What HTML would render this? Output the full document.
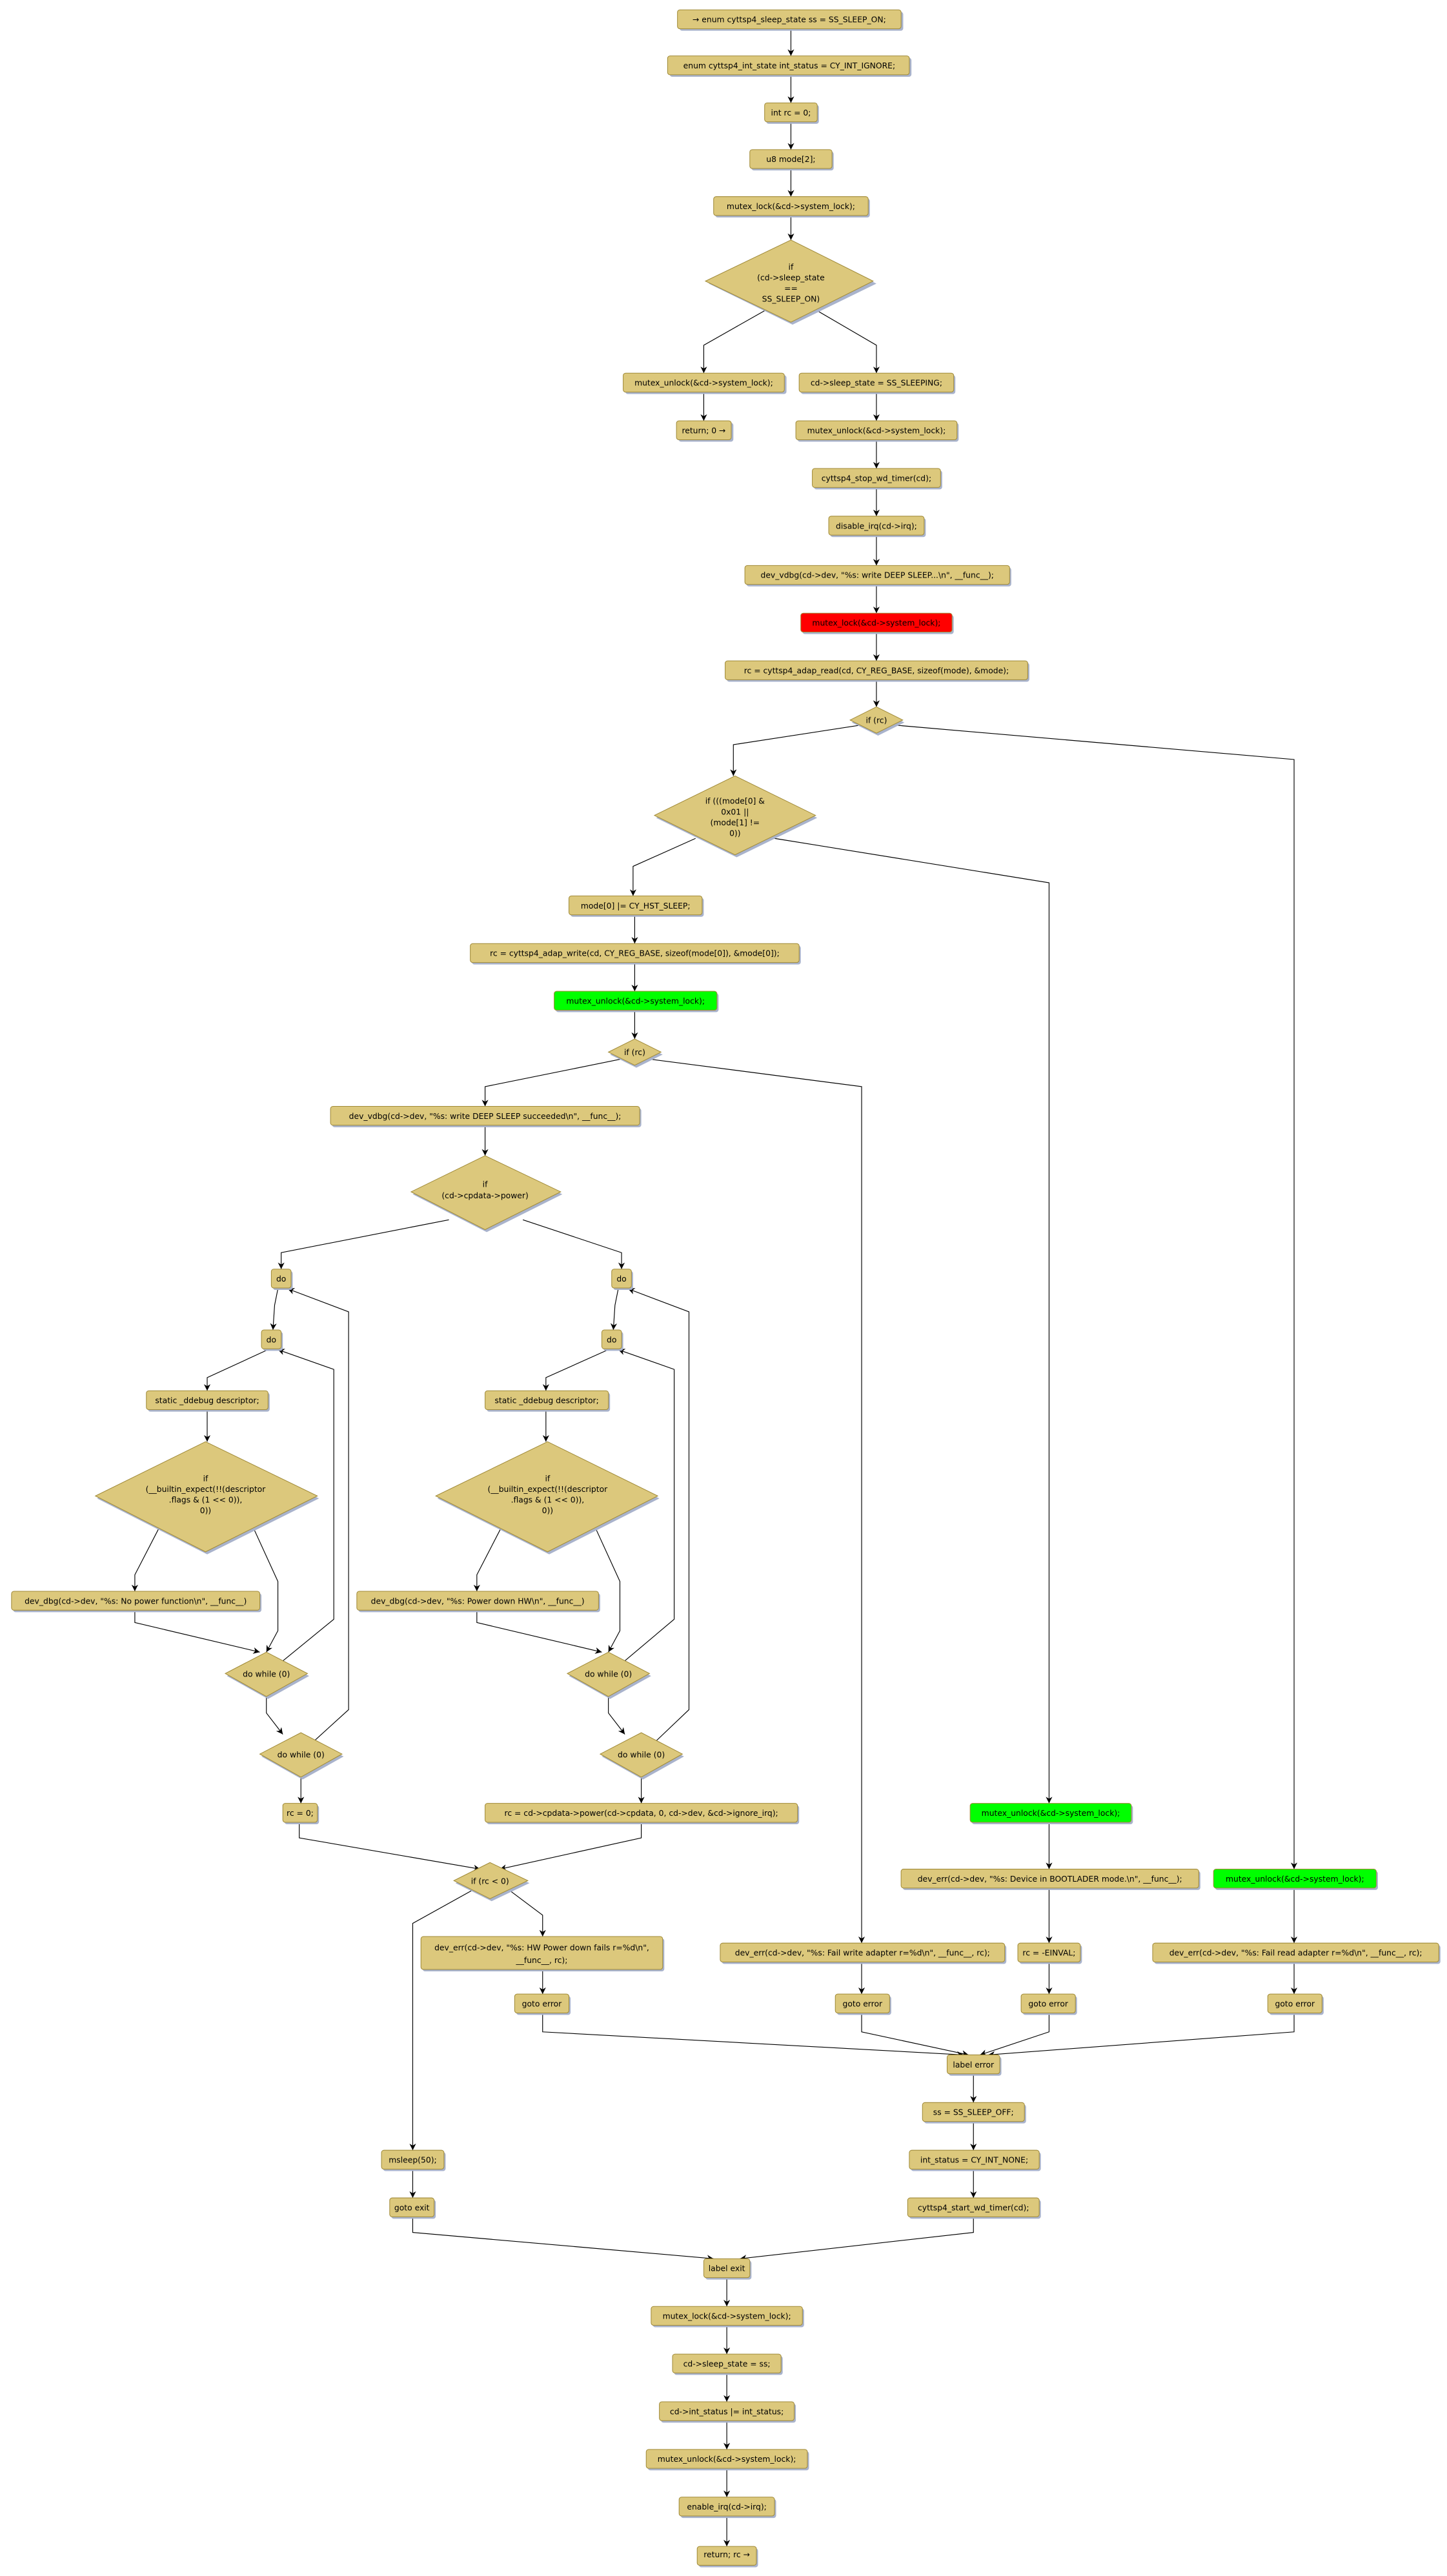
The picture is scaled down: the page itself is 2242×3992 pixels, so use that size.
<!DOCTYPE html>
<html><head><meta charset="utf-8"><style>
html,body{margin:0;padding:0;background:#fff;}
svg{display:block;}
text{font-family:"DejaVu Sans","Liberation Sans",sans-serif;font-size:4.85px;fill:#000;text-anchor:middle;}
.b{fill:#dcc87c;stroke:#a08a38;stroke-width:0.4;}
.s{fill:#a9b3cc;}
.l{fill:none;stroke:#000;stroke-width:0.45;}
</style></head><body>
<svg width="2242" height="3992" viewBox="0 0 880 1567" preserveAspectRatio="none" xmlns="http://www.w3.org/2000/svg">
<defs>
<marker id="a" viewBox="0 0 10 10" refX="10" refY="5" markerWidth="4" markerHeight="4" markerUnits="userSpaceOnUse" orient="auto">
<path d="M0,0 L10,5 L0,10 L3,5 z" fill="#000"/>
</marker>
</defs>

<g class="l" marker-end="url(#a)">
<polyline points="481,17.5 481,34"/>
<polyline points="481,45.5 481,62.6"/>
<polyline points="481,74 481,91"/>
<polyline points="481,103 481,119.6"/>
<polyline points="481,131 481,146"/>
<polyline points="465,189 428,210 428,227"/>
<polyline points="497,189 533,210 533,227"/>
<polyline points="428,239 428,256"/>
<polyline points="533,239 533,256"/>
<polyline points="533,268 533,285"/>
<polyline points="533,297 533,314"/>
<polyline points="533,326 533,344"/>
<polyline points="533,356 533,373"/>
<polyline points="533,385 533,402"/>
<polyline points="533,414 533,430"/>
<polyline points="524,441 446,453 446,472"/>
<polyline points="543,441 787,462 787,1137"/>
<polyline points="423,510 385,527 385,545"/>
<polyline points="471,510 638,537 638,1097"/>
<polyline points="386,557 386,574"/>
<polyline points="386,586 386,603"/>
<polyline points="386,615 386,632"/>
<polyline points="379,644 295,661 295,673"/>
<polyline points="393,644 524,661 524,1182"/>
<polyline points="295,685 295,703"/>
<polyline points="273,742 171,762 171,772"/>
<polyline points="318,742 378,762 378,772"/>
<polyline points="169,784 167,794 166,809"/>
<polyline points="163,821 126,838 126,846"/>
<polyline points="126,858 126,877"/>
<polyline points="98,927 82,958 82,968"/>
<polyline points="153,927 169,962 169,992 162,1005"/>
<polyline points="82,980 82,987 158,1005"/>
<polyline points="162,1032 162,1042 172,1055"/>
<polyline points="170,1012 203,985 203,833 169,821"/>
<polyline points="190,1060 212,1040 212,798 175,784"/>
<polyline points="183,1081 183,1097"/>
<polyline points="376,784 374,794 373,809"/>
<polyline points="370,821 332,838 332,846"/>
<polyline points="332,858 332,877"/>
<polyline points="306,927 290,958 290,968"/>
<polyline points="361,927 377,962 377,992 370,1005"/>
<polyline points="290,980 290,987 366,1005"/>
<polyline points="370,1032 370,1042 380,1055"/>
<polyline points="378,1012 410,985 410,833 376,821"/>
<polyline points="398,1060 419,1040 419,798 382,784"/>
<polyline points="390,1081 390,1097"/>
<polyline points="182,1109 182,1118 292,1137"/>
<polyline points="390,1109 390,1118 304,1137"/>
<polyline points="287,1150 251,1170 251,1308"/>
<polyline points="310,1150 330,1165 330,1178"/>
<polyline points="330,1198 330,1213"/>
<polyline points="251,1320 251,1337"/>
<polyline points="524,1194 524,1213"/>
<polyline points="638,1109 638,1137"/>
<polyline points="638,1149 638,1182"/>
<polyline points="638,1194 638,1213"/>
<polyline points="787,1149 787,1182"/>
<polyline points="787,1194 787,1213"/>
<polyline points="330,1225 330,1236 586,1250"/>
<polyline points="524,1225 524,1236 589,1250"/>
<polyline points="638,1225 638,1236 596,1250"/>
<polyline points="787,1225 787,1236 601,1250"/>
<polyline points="592,1262 592,1279"/>
<polyline points="592,1291 592,1308"/>
<polyline points="592,1320 592,1337"/>
<polyline points="592,1349 592,1358 450,1374"/>
<polyline points="251,1349 251,1358 434,1374"/>
<polyline points="442,1386 442,1403"/>
<polyline points="442,1415 442,1432"/>
<polyline points="442,1444 442,1461"/>
<polyline points="442,1473 442,1490"/>
<polyline points="442,1502 442,1519"/>
<polyline points="442,1531 442,1549"/>
</g>

<g>
<rect class="s" x="413.3" y="7.2" width="136" height="11.5" rx="1.5"/><rect class="b" x="412" y="6" width="136" height="11.5" rx="1.5"/><text x="480" y="13.6">→ enum cyttsp4_sleep_state ss = SS_SLEEP_ON;</text>
<rect class="s" x="407.3" y="35.2" width="147" height="11.5" rx="1.5"/><rect class="b" x="406" y="34" width="147" height="11.5" rx="1.5"/><text x="480" y="41.6">enum cyttsp4_int_state int_status = CY_INT_IGNORE;</text>
<rect class="s" x="466" y="63.8" width="32" height="11.5" rx="1.5"/><rect class="b" x="465" y="62.6" width="32" height="11.5" rx="1.5"/><text x="481" y="70.2">int rc = 0;</text>
<rect class="s" x="457" y="92.2" width="50" height="11.5" rx="1.5"/><rect class="b" x="456" y="91" width="50" height="11.5" rx="1.5"/><text x="481" y="98.6">u8 mode[2];</text>
<rect class="s" x="435" y="120.8" width="94" height="11.5" rx="1.5"/><rect class="b" x="434" y="119.6" width="94" height="11.5" rx="1.5"/><text x="481" y="127.2">mutex_lock(&amp;cd-&gt;system_lock);</text>
<polygon class="s" points="482,147.5 533,172.5 482,197.5 431,172.5"/><polygon class="b" points="481,146 531,171 481,196 429,171"/>
<text x="481" y="164">if</text><text x="481" y="170.5">(cd-&gt;sleep_state</text><text x="481" y="177">==</text><text x="481" y="183.5">SS_SLEEP_ON)</text>

<rect class="s" x="380.3" y="228.2" width="98" height="11.5" rx="1.5"/><rect class="b" x="379" y="227" width="98" height="11.5" rx="1.5"/><text x="428" y="234.6">mutex_unlock(&amp;cd-&gt;system_lock);</text>
<rect class="s" x="412.7" y="257.2" width="33.3" height="11.5" rx="1.5"/><rect class="b" x="411.4" y="256" width="33.3" height="11.5" rx="1.5"/><text x="428" y="263.6">return; 0 →</text>
<rect class="s" x="487" y="228.2" width="94" height="11.5" rx="1.5"/><rect class="b" x="486" y="227" width="94" height="11.5" rx="1.5"/><text x="533" y="234.6">cd-&gt;sleep_state = SS_SLEEPING;</text>
<rect class="s" x="485" y="257.2" width="98" height="11.5" rx="1.5"/><rect class="b" x="484" y="256" width="98" height="11.5" rx="1.5"/><text x="533" y="263.6">mutex_unlock(&amp;cd-&gt;system_lock);</text>
<rect class="s" x="495" y="286.2" width="78" height="11.5" rx="1.5"/><rect class="b" x="494" y="285" width="78" height="11.5" rx="1.5"/><text x="533" y="292.6">cyttsp4_stop_wd_timer(cd);</text>
<rect class="s" x="505" y="315.2" width="58" height="11.5" rx="1.5"/><rect class="b" x="504" y="314" width="58" height="11.5" rx="1.5"/><text x="533" y="321.6">disable_irq(cd-&gt;irq);</text>
<rect class="s" x="454" y="345.2" width="161" height="11.5" rx="1.5"/><rect class="b" x="453" y="344" width="161" height="11.5" rx="1.5"/><text x="533.5" y="351.6">dev_vdbg(cd-&gt;dev, "%s: write DEEP SLEEP...\n", __func__);</text>
<rect class="s" x="488" y="374.2" width="92" height="11.5" rx="1.5"/><rect x="487" y="373" width="92" height="11.5" rx="1.5" fill="#ff0000" stroke="#a08a38" stroke-width="0.4"/><text x="533" y="380.6">mutex_lock(&amp;cd-&gt;system_lock);</text>
<rect class="s" x="442" y="403.2" width="184" height="11.5" rx="1.5"/><rect class="b" x="441" y="402" width="184" height="11.5" rx="1.5"/><text x="533" y="409.6">rc = cyttsp4_adap_read(cd, CY_REG_BASE, sizeof(mode), &amp;mode);</text>
<polygon class="s" points="534,431.5 550,439.5 534,447.5 518,439.5"/><polygon class="b" points="533,430 549,438 533,446 517,438"/><text x="533" y="439.8">if (rc)</text>

<polygon class="s" points="448,473.5 497,497.5 448,521.5 399,497.5"/><polygon class="b" points="447,472 496,496 447,520 398,496"/>
<text x="447" y="489">if (((mode[0] &amp;</text><text x="447" y="495.5">0x01 ||</text><text x="447" y="502">(mode[1] !=</text><text x="447" y="508.5">0))</text>

<rect class="s" x="347" y="546.2" width="81" height="11.5" rx="1.5"/><rect class="b" x="346" y="545" width="81" height="11.5" rx="1.5"/><text x="386.5" y="552.6">mode[0] |= CY_HST_SLEEP;</text>
<rect class="s" x="287" y="575.2" width="200" height="11.5" rx="1.5"/><rect class="b" x="286" y="574" width="200" height="11.5" rx="1.5"/><text x="386" y="581.6">rc = cyttsp4_adap_write(cd, CY_REG_BASE, sizeof(mode[0]), &amp;mode[0]);</text>
<rect class="s" x="338" y="604.2" width="99" height="11.5" rx="1.5"/><rect x="337" y="603" width="99" height="11.5" rx="1.5" fill="#00ff00" stroke="#a08a38" stroke-width="0.4"/><text x="386.5" y="610.6">mutex_unlock(&amp;cd-&gt;system_lock);</text>
<polygon class="s" points="387,633.5 403,641.5 387,649.5 371,641.5"/><polygon class="b" points="386,632 402,640 386,648 370,640"/><text x="386" y="641.8">if (rc)</text>

<rect class="s" x="202" y="674.2" width="188" height="11.5" rx="1.5"/><rect class="b" x="201" y="673" width="188" height="11.5" rx="1.5"/><text x="295" y="680.6">dev_vdbg(cd-&gt;dev, "%s: write DEEP SLEEP succeeded\n", __func__);</text>
<polygon class="s" points="296,704.5 342,726.5 296,749.5 251,726.5"/><polygon class="b" points="295,703 341,725 295,748 250,725"/>
<text x="295" y="722">if</text><text x="295" y="729">(cd-&gt;cpdata-&gt;power)</text>

<rect class="s" x="166" y="773.2" width="12" height="11.5" rx="1.5"/><rect class="b" x="165" y="772" width="12" height="11.5" rx="1.5"/><text x="171" y="779.6">do</text>
<rect class="s" x="160" y="810.2" width="12" height="11.5" rx="1.5"/><rect class="b" x="159" y="809" width="12" height="11.5" rx="1.5"/><text x="165" y="816.6">do</text>
<rect class="s" x="90" y="847.2" width="74" height="11.5" rx="1.5"/><rect class="b" x="89" y="846" width="74" height="11.5" rx="1.5"/><text x="126" y="853.6">static _ddebug descriptor;</text>
<polygon class="s" points="126,878.5 194,911.5 126,945.5 59,911.5"/><polygon class="b" points="125,877 193,910 125,944 58,910"/>
<text x="125" y="901">if</text><text x="125" y="907.5">(__builtin_expect(!!(descriptor</text><text x="125" y="914">.flags &amp; (1 &lt;&lt; 0)),</text><text x="125" y="920.5">0))</text>
<rect class="s" x="8" y="969.2" width="151" height="11.5" rx="1.5"/><rect class="b" x="7" y="968" width="151" height="11.5" rx="1.5"/><text x="82.5" y="975.6">dev_dbg(cd-&gt;dev, "%s: No power function\n", __func__)</text>
<polygon class="s" points="163,1006.5 188,1019.5 163,1033.5 138,1019.5"/><polygon class="b" points="162,1005 187,1018 162,1032 137,1018"/><text x="162" y="1020">do while (0)</text>
<polygon class="s" points="184,1055.5 209,1068.5 184,1082.5 159,1068.5"/><polygon class="b" points="183,1054 208,1067 183,1081 158,1067"/><text x="183" y="1069">do while (0)</text>
<rect class="s" x="173" y="1098.2" width="21" height="11.5" rx="1.5"/><rect class="b" x="172" y="1097" width="21" height="11.5" rx="1.5"/><text x="182.5" y="1104.6">rc = 0;</text>

<rect class="s" x="373" y="773.2" width="12" height="11.5" rx="1.5"/><rect class="b" x="372" y="772" width="12" height="11.5" rx="1.5"/><text x="378" y="779.6">do</text>
<rect class="s" x="367" y="810.2" width="12" height="11.5" rx="1.5"/><rect class="b" x="366" y="809" width="12" height="11.5" rx="1.5"/><text x="372" y="816.6">do</text>
<rect class="s" x="296" y="847.2" width="75" height="11.5" rx="1.5"/><rect class="b" x="295" y="846" width="75" height="11.5" rx="1.5"/><text x="332.5" y="853.6">static _ddebug descriptor;</text>
<polygon class="s" points="334,878.5 401,911.5 334,945.5 266,911.5"/><polygon class="b" points="333,877 400,910 333,944 265,910"/>
<text x="333" y="901">if</text><text x="333" y="907.5">(__builtin_expect(!!(descriptor</text><text x="333" y="914">.flags &amp; (1 &lt;&lt; 0)),</text><text x="333" y="920.5">0))</text>
<rect class="s" x="218" y="969.2" width="147" height="11.5" rx="1.5"/><rect class="b" x="217" y="968" width="147" height="11.5" rx="1.5"/><text x="290.5" y="975.6">dev_dbg(cd-&gt;dev, "%s: Power down HW\n", __func__)</text>
<polygon class="s" points="371,1006.5 396,1019.5 371,1033.5 346,1019.5"/><polygon class="b" points="370,1005 395,1018 370,1032 345,1018"/><text x="370" y="1020">do while (0)</text>
<polygon class="s" points="391,1055.5 416,1068.5 391,1082.5 366,1068.5"/><polygon class="b" points="390,1054 415,1067 390,1081 365,1067"/><text x="390" y="1069">do while (0)</text>
<rect class="s" x="296" y="1098.2" width="190" height="11.5" rx="1.5"/><rect class="b" x="295" y="1097" width="190" height="11.5" rx="1.5"/><text x="390" y="1104.6">rc = cd-&gt;cpdata-&gt;power(cd-&gt;cpdata, 0, cd-&gt;dev, &amp;cd-&gt;ignore_irq);</text>

<polygon class="s" points="299,1134.5 322,1145.5 299,1156.5 277,1145.5"/><polygon class="b" points="298,1133 321,1144 298,1155 276,1144"/><text x="298" y="1146">if (rc &lt; 0)</text>
<rect class="s" x="257" y="1179.2" width="147" height="20" rx="1.5"/><rect class="b" x="256" y="1178" width="147" height="20" rx="1.5"/><text x="329.5" y="1186.5">dev_err(cd-&gt;dev, "%s: HW Power down fails r=%d\n",</text><text x="329.5" y="1194">__func__, rc);</text>
<rect class="s" x="314" y="1214.2" width="33" height="11.5" rx="1.5"/><rect class="b" x="313" y="1213" width="33" height="11.5" rx="1.5"/><text x="329.5" y="1220.6">goto error</text>
<rect class="s" x="233" y="1309.2" width="38" height="11.5" rx="1.5"/><rect class="b" x="232" y="1308" width="38" height="11.5" rx="1.5"/><text x="251" y="1315.6">msleep(50);</text>
<rect class="s" x="238" y="1338.2" width="27" height="11.5" rx="1.5"/><rect class="b" x="237" y="1337" width="27" height="11.5" rx="1.5"/><text x="250.5" y="1344.6">goto exit</text>

<rect class="s" x="439" y="1183.2" width="173" height="11.5" rx="1.5"/><rect class="b" x="438" y="1182" width="173" height="11.5" rx="1.5"/><text x="524.5" y="1189.6">dev_err(cd-&gt;dev, "%s: Fail write adapter r=%d\n", __func__, rc);</text>
<rect class="s" x="509" y="1214.2" width="33" height="11.5" rx="1.5"/><rect class="b" x="508" y="1213" width="33" height="11.5" rx="1.5"/><text x="524.5" y="1220.6">goto error</text>

<rect class="s" x="591" y="1098.2" width="98" height="11.5" rx="1.5"/><rect x="590" y="1097" width="98" height="11.5" rx="1.5" fill="#00ff00" stroke="#a08a38" stroke-width="0.4"/><text x="639" y="1104.6">mutex_unlock(&amp;cd-&gt;system_lock);</text>
<rect class="s" x="549" y="1138.2" width="181" height="11.5" rx="1.5"/><rect class="b" x="548" y="1137" width="181" height="11.5" rx="1.5"/><text x="638.5" y="1144.6">dev_err(cd-&gt;dev, "%s: Device in BOOTLADER mode.\n", __func__);</text>
<rect class="s" x="620" y="1183.2" width="38" height="11.5" rx="1.5"/><rect class="b" x="619" y="1182" width="38" height="11.5" rx="1.5"/><text x="638" y="1189.6">rc = -EINVAL;</text>
<rect class="s" x="622" y="1214.2" width="33" height="11.5" rx="1.5"/><rect class="b" x="621" y="1213" width="33" height="11.5" rx="1.5"/><text x="637.5" y="1220.6">goto error</text>

<rect class="s" x="739" y="1138.2" width="99" height="11.5" rx="1.5"/><rect x="738" y="1137" width="99" height="11.5" rx="1.5" fill="#00ff00" stroke="#a08a38" stroke-width="0.4"/><text x="787.5" y="1144.6">mutex_unlock(&amp;cd-&gt;system_lock);</text>
<rect class="s" x="702" y="1183.2" width="174" height="11.5" rx="1.5"/><rect class="b" x="701" y="1182" width="174" height="11.5" rx="1.5"/><text x="788" y="1189.6">dev_err(cd-&gt;dev, "%s: Fail read adapter r=%d\n", __func__, rc);</text>
<rect class="s" x="772" y="1214.2" width="33" height="11.5" rx="1.5"/><rect class="b" x="771" y="1213" width="33" height="11.5" rx="1.5"/><text x="787.5" y="1220.6">goto error</text>

<rect class="s" x="577" y="1251.2" width="32" height="11.5" rx="1.5"/><rect class="b" x="576" y="1250" width="32" height="11.5" rx="1.5"/><text x="592" y="1257.6">label error</text>
<rect class="s" x="562" y="1280.2" width="62" height="11.5" rx="1.5"/><rect class="b" x="561" y="1279" width="62" height="11.5" rx="1.5"/><text x="592" y="1286.6">ss = SS_SLEEP_OFF;</text>
<rect class="s" x="554" y="1309.2" width="79" height="11.5" rx="1.5"/><rect class="b" x="553" y="1308" width="79" height="11.5" rx="1.5"/><text x="592.5" y="1315.6">int_status = CY_INT_NONE;</text>
<rect class="s" x="553" y="1338.2" width="80" height="11.5" rx="1.5"/><rect class="b" x="552" y="1337" width="80" height="11.5" rx="1.5"/><text x="592" y="1344.6">cyttsp4_start_wd_timer(cd);</text>

<rect class="s" x="429" y="1375.2" width="28" height="11.5" rx="1.5"/><rect class="b" x="428" y="1374" width="28" height="11.5" rx="1.5"/><text x="442" y="1381.6">label exit</text>
<rect class="s" x="397" y="1404.2" width="92" height="11.5" rx="1.5"/><rect class="b" x="396" y="1403" width="92" height="11.5" rx="1.5"/><text x="442" y="1410.6">mutex_lock(&amp;cd-&gt;system_lock);</text>
<rect class="s" x="410" y="1433.2" width="66" height="11.5" rx="1.5"/><rect class="b" x="409" y="1432" width="66" height="11.5" rx="1.5"/><text x="442" y="1439.6">cd-&gt;sleep_state = ss;</text>
<rect class="s" x="402" y="1462.2" width="82" height="11.5" rx="1.5"/><rect class="b" x="401" y="1461" width="82" height="11.5" rx="1.5"/><text x="442" y="1468.6">cd-&gt;int_status |= int_status;</text>
<rect class="s" x="394" y="1491.2" width="98" height="11.5" rx="1.5"/><rect class="b" x="393" y="1490" width="98" height="11.5" rx="1.5"/><text x="442" y="1497.6">mutex_unlock(&amp;cd-&gt;system_lock);</text>
<rect class="s" x="414" y="1520.2" width="58" height="11.5" rx="1.5"/><rect class="b" x="413" y="1519" width="58" height="11.5" rx="1.5"/><text x="442" y="1526.6">enable_irq(cd-&gt;irq);</text>
<rect class="s" x="425" y="1550.2" width="36" height="11.5" rx="1.5"/><rect class="b" x="424" y="1549" width="36" height="11.5" rx="1.5"/><text x="442" y="1555.6">return; rc →</text>
</g>
</svg>
</body></html>
